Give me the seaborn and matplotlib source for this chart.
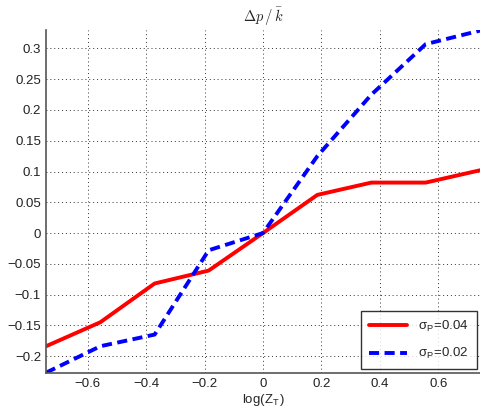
import numpy as np
import pandas as pd
import matplotlib
matplotlib.use("Agg")
import matplotlib.pyplot as plt
import seaborn as sns

x_vals = [-0.743, -0.557, -0.371, -0.186, 0.0, 0.186, 0.371, 0.557, 0.743]
red_vals = [-0.184, -0.145, -0.082, -0.061, 0.0, 0.062, 0.082, 0.082, 0.102]
blue_vals = [-0.227, -0.184, -0.165, -0.028, 0.0, 0.125, 0.225, 0.307, 0.329]
labels = ["σ$_\\mathregular{P}$=0.04", "σ$_\\mathregular{P}$=0.02"]
xticks = [-0.6, -0.4, -0.2, 0, 0.2, 0.4, 0.6]
yticks = [-0.2, -0.15, -0.1, -0.05, 0, 0.05, 0.1, 0.15, 0.2, 0.25, 0.3]
ytick_labels = ["\u22120.2", "\u22120.15", "\u22120.1", "\u22120.05", "0", "0.05", "0.1", "0.15", "0.2", "0.25", "0.3"]
xtick_labels = ["\u22120.6", "\u22120.4", "\u22120.2", "0", "0.2", "0.4", "0.6"]

df = pd.DataFrame({
    "x": x_vals * 2,
    "y": red_vals + blue_vals,
    "series": [labels[0]] * len(x_vals) + [labels[1]] * len(x_vals),
})

sns.set_style("white")
plt.rcParams["font.family"] = ["Liberation Sans", "DejaVu Sans"]
plt.rcParams["mathtext.fontset"] = "cm"

fig = plt.figure(figsize=(4.81, 4.08), dpi=100)
ax = fig.add_axes([0.0956, 0.0865, 0.9024, 0.84])

sns.lineplot(data=df, x="x", y="y", hue="series", style="series",
             palette={labels[0]: "#ff0000", labels[1]: "#0000ff"},
             dashes={labels[0]: "", labels[1]: (2.6, 1.4)},
             linewidth=2.8, ax=ax, legend=True)

ax.set_xlim(-0.743, 0.743)
ax.set_ylim(-0.227, 0.330)
ax.set_xticks(xticks)
ax.set_xticklabels(xtick_labels)
ax.set_yticks(yticks)
ax.set_yticklabels(ytick_labels)
ax.tick_params(direction="in", length=4, labelsize=9.5, colors="#222222", width=0.8)
ax.grid(True, linestyle=(0, (1, 3)), color="#333333", linewidth=0.7)
for s in ["top", "right"]:
    ax.spines[s].set_visible(False)
for s in ["left", "bottom"]:
    ax.spines[s].set_color("#555555")
    ax.spines[s].set_linewidth(1.2)

ax.set_xlabel("log(Z$_\\mathregular{T}$)", fontsize=9.5, labelpad=2)
ax.set_ylabel("")
ax.set_title(r"$\Delta p\,/\,\bar{k}$", fontsize=10.5, pad=6)

leg = ax.legend(loc="lower right", fontsize=9.5, frameon=True, fancybox=False,
                edgecolor="black", borderaxespad=0.25, handlelength=2.9,
                labelspacing=0.95, borderpad=0.6)
leg.get_frame().set_linewidth(1.0)

fig.savefig("out.png", dpi=100)
